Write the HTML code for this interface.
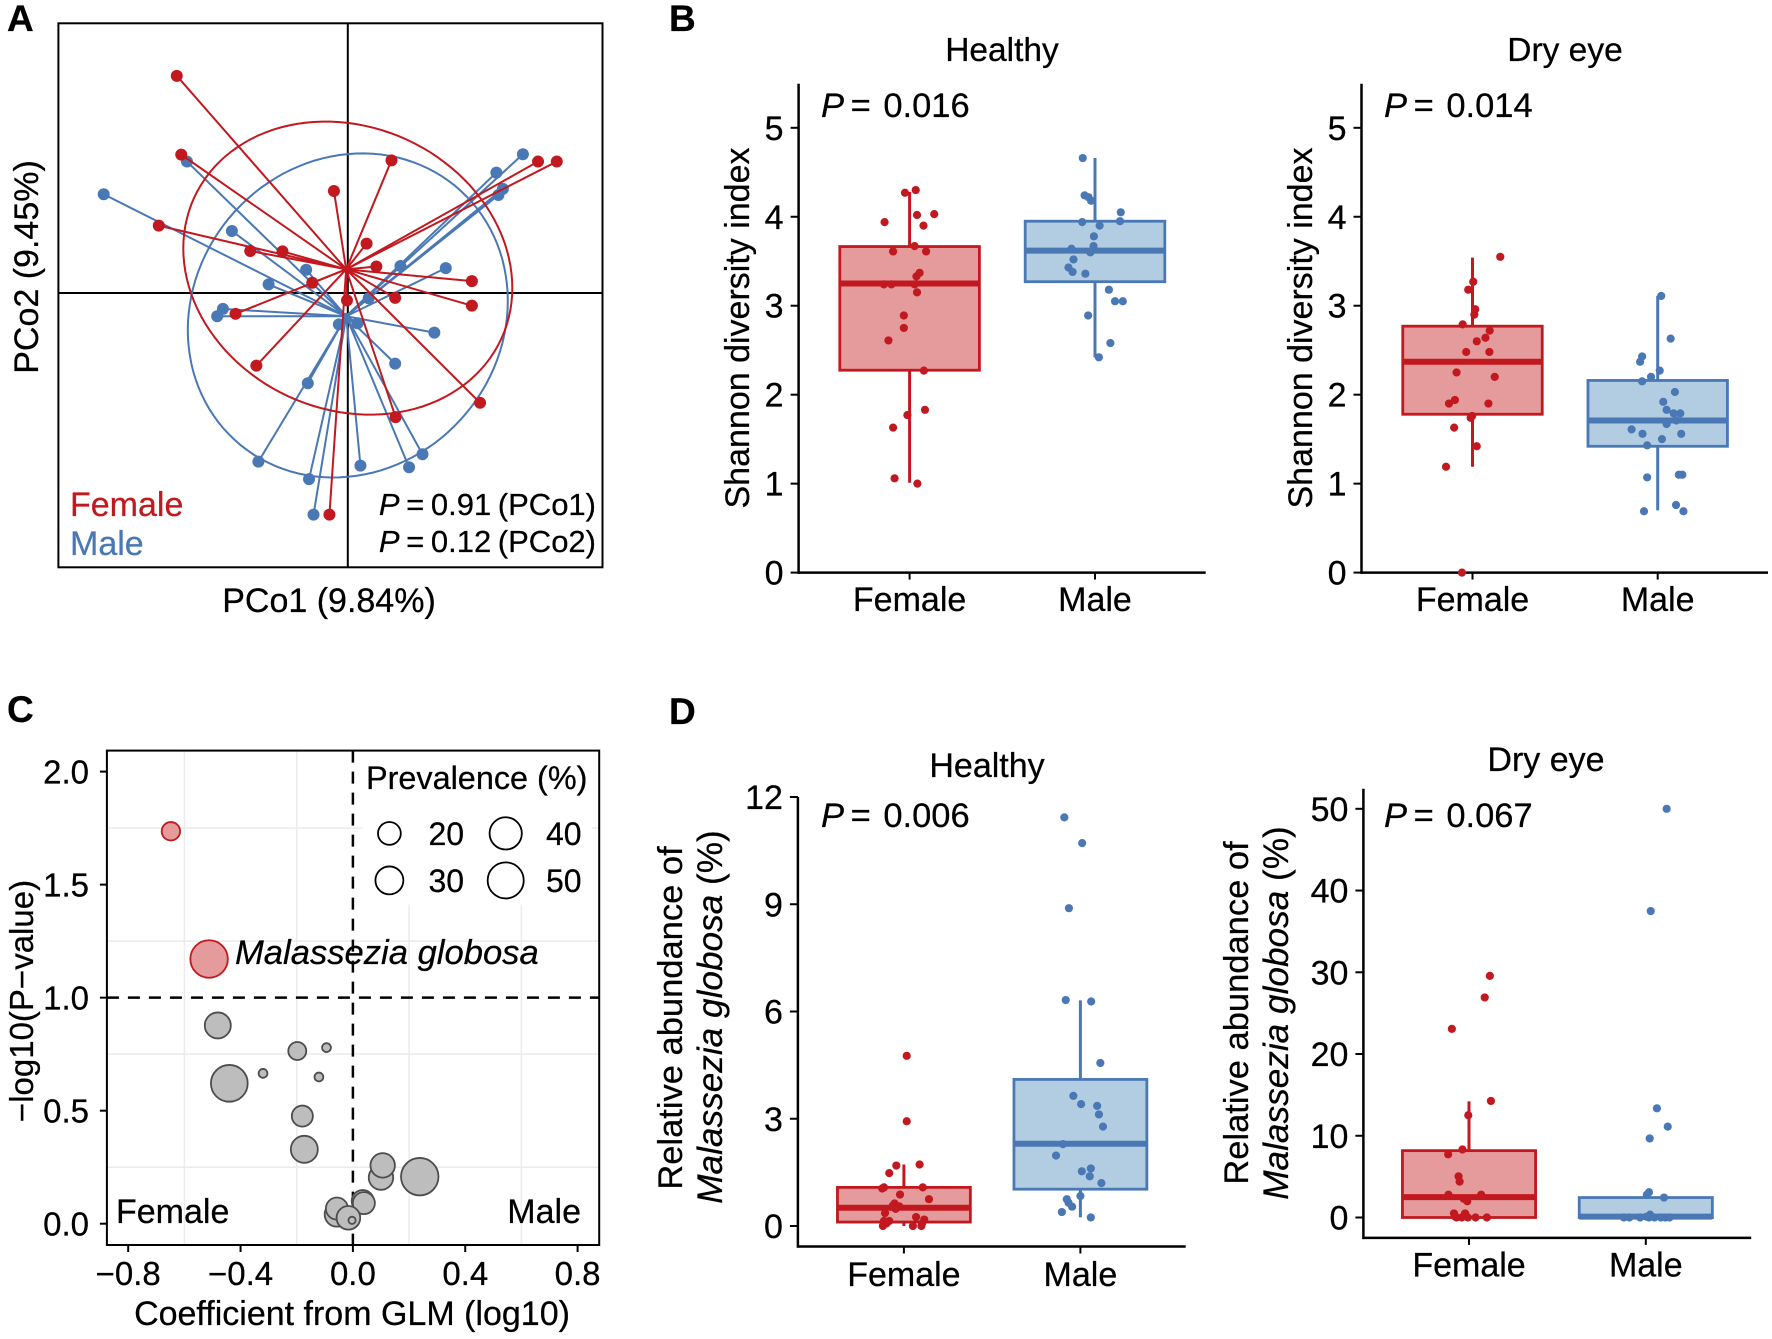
<!DOCTYPE html>
<html lang="en">
<head>
<meta charset="utf-8">
<title>Microbiome sex differences figure</title>
<style>
html,body{margin:0;padding:0;background:#fff;}
svg{display:block;}
text{font-family:"Liberation Sans",sans-serif;fill:#000;stroke:#000;stroke-width:.25px;}
</style>
</head>
<body>
<svg xmlns="http://www.w3.org/2000/svg" width="1772" height="1339" viewBox="0 0 1772 1339">
  <rect x="0" y="0" width="1772" height="1339" fill="#fff"/>
  <g id="panel-a"></g>
  <g id="panel-b1"></g>
  <g id="panel-b2"></g>
  <g id="panel-c"></g>
  <g id="panel-d1"></g>
  <g id="panel-d2"></g>

  <g font-weight="700" font-size="37">
    <text x="7" y="31">A</text>
    <text x="669" y="31">B</text>
    <text x="7" y="722">C</text>
    <text x="669" y="724">D</text>
  </g>

  <!-- Panel A text -->
  <text x="329" y="612" font-size="34" text-anchor="middle">PCo1 (9.84%)</text>
  <text transform="translate(38 267) rotate(-90)" font-size="34" text-anchor="middle">PCo2 (9.45%)</text>
  <text x="70" y="516" font-size="34" style="fill:#c1191f;stroke:#c1191f">Female</text>
  <text x="70" y="555" font-size="34" style="fill:#4a78b5;stroke:#4a78b5">Male</text>
  <text x="596" y="515" font-size="31" text-anchor="end" word-spacing="-2"><tspan font-style="italic">P</tspan> = 0.91 (PCo1)</text>
  <text x="596" y="552" font-size="31" text-anchor="end" word-spacing="-2"><tspan font-style="italic">P</tspan> = 0.12 (PCo2)</text>

  <!-- Panel B text -->
  <text x="1002" y="61" font-size="33.5" text-anchor="middle">Healthy</text>
  <text x="1565" y="61" font-size="33.5" text-anchor="middle">Dry eye</text>
  <text x="821" y="117" font-size="34.5"><tspan font-style="italic">P</tspan><tspan dx="-3"> = </tspan><tspan dx="3">0.016</tspan></text>
  <text x="1384" y="117" font-size="34.5"><tspan font-style="italic">P</tspan><tspan dx="-3"> = </tspan><tspan dx="3">0.014</tspan></text>
  <text transform="translate(749 328) rotate(-90)" font-size="34" text-anchor="middle">Shannon diversity index</text>
  <text transform="translate(1312 328) rotate(-90)" font-size="34" text-anchor="middle">Shannon diversity index</text>

  <!-- Panel C text -->
  <text transform="translate(33 1001) rotate(-90)" font-size="33" text-anchor="middle">−log10(P−value)</text>
  <text x="352" y="1325" font-size="34" text-anchor="middle">Coefficient from GLM (log10)</text>
  <text x="116" y="1223" font-size="34">Female</text>
  <text x="581" y="1223" font-size="34" text-anchor="end">Male</text>
  <text x="235" y="964" font-size="34.6" font-style="italic">Malassezia globosa</text>
  <text x="366" y="789" font-size="32.4">Prevalence (%)</text>

  <!-- Panel D text -->
  <text x="987" y="777" font-size="34" text-anchor="middle">Healthy</text>
  <text x="1546" y="771" font-size="34" text-anchor="middle">Dry eye</text>
  <text x="821" y="827" font-size="34.5"><tspan font-style="italic">P</tspan><tspan dx="-3"> = </tspan><tspan dx="3">0.006</tspan></text>
  <text x="1384" y="827" font-size="34.5"><tspan font-style="italic">P</tspan><tspan dx="-3"> = </tspan><tspan dx="3">0.067</tspan></text>
  <text transform="translate(682 1018) rotate(-90)" font-size="34.5" text-anchor="middle">Relative abundance of</text>
  <text transform="translate(722 1017) rotate(-90)" font-size="35.2" text-anchor="middle"><tspan font-style="italic">Malassezia globosa</tspan> (%)</text>
  <text transform="translate(1248 1013) rotate(-90)" font-size="34.5" text-anchor="middle">Relative abundance of</text>
  <text transform="translate(1288 1013) rotate(-90)" font-size="35.2" text-anchor="middle"><tspan font-style="italic">Malassezia globosa</tspan> (%)</text>
</svg>

<script>
// ---------- Panel A: PCoA ----------
const aFemaleX = [-.419,-.408,.107,-.034,-.463,-.239,-.160,.046,.070,-.087,.466,.512,.304,.304,.116,-.002,-.275,-.224,.117,.324,-.045];
const aFemaleY = [.532,.339,.325,.250,.165,.103,.102,.121,.065,.025,.322,.322,.029,-.031,-.012,-.018,-.051,-.178,-.304,-.269,-.543];
const aMaleX = [-.598,-.394,-.284,-.102,-.194,-.306,-.320,-.022,.024,.051,.129,.240,.212,.116,-.098,-.219,-.095,-.084,.031,.150,.183,.364,.429,.369,.380];
const aMaleY = [.242,.322,.152,.057,.021,-.039,-.057,-.077,-.074,-.013,.066,.061,-.097,-.173,-.221,-.413,-.456,-.543,-.423,-.427,-.395,.295,.340,.240,.255];
const aFemaleCentroid = [-.004,.058];
const aMaleCentroid = [-.004,-.057];
// ellipse: centre x, centre y, half width, half height, correlation
const aFemaleEllipse = [0,.061,.403,.359,-.135];
const aMaleEllipse = [0,-.055,.392,.397,.09];

// ---------- Panel B: Shannon diversity ----------
const bTicks = [0,1,2,3,4,5];
const categories = ['Female','Male'];
// box stats: q1, median, q3, lower whisker, upper whisker
const bHealthyFemaleBox = [2.275,3.25,3.665,1.01,4.28];
const bHealthyMaleBox = [3.27,3.62,3.95,2.42,4.66];
const bHealthyFemaleValues = [4.30,4.27,4.02,4.03,3.94,3.90,3.67,3.61,3.61,3.37,3.33,3.24,3.24,3.24,3.15,2.89,2.75,2.61,2.27,1.83,1.77,1.63,1.06,1.00];
const bHealthyFemaleJitter = [.033,-.025,.04,.133,-.135,.075,.027,-.089,.089,.054,.037,-.139,-.098,.027,.04,-.031,-.031,-.114,.077,.083,-.012,-.089,-.081,.042];
const bHealthyMaleValues = [4.66,4.24,4.22,4.18,4.05,3.94,3.95,3.90,3.78,3.64,3.67,3.64,3.60,3.52,3.43,3.38,3.36,3.18,3.05,3.05,2.89,2.58,2.42];
const bHealthyMaleJitter = [-.066,-.056,-.035,-.021,.139,-.069,.135,.025,-.006,-.127,-.008,-.008,-.025,-.116,-.143,-.121,-.052,.075,.108,.150,-.037,.083,.021];

const bDryFemaleBox = [1.78,2.37,2.77,1.19,3.54];
const bDryMaleBox = [1.42,1.71,2.16,.70,3.11];
const bDryFemaleValues = [3.55,3.27,3.18,2.96,2.90,2.79,2.72,2.64,2.60,2.48,2.48,2.25,2.20,1.94,1.90,1.90,1.74,1.76,1.63,1.42,1.19,0];
const bDryFemaleJitter = [.150,.004,-.023,.015,.010,-.053,.093,.070,.023,-.034,.091,-.086,.120,-.095,-.127,.086,-.010,-.002,-.099,.023,-.143,-.057];
const bDryMaleValues = [3.11,2.63,2.43,2.37,2.27,2.20,2.15,2.03,1.92,1.83,1.79,1.79,1.71,1.67,1.61,1.56,1.56,1.50,1.43,1.07,1.10,1.10,.76,.69,.69];
const bDryMaleJitter = [.019,.070,-.084,-.095,.011,-.036,-.084,.093,.030,.048,.086,.122,.101,.048,-.141,-.082,.127,.023,-.057,-.057,.114,.133,.099,-.074,.139];

// ---------- Panel C: volcano ----------
const cXTicks = [-0.8,-0.4,0,0.4,0.8];
const cXTickLabels = ['−0.8','−0.4','0.0','0.4','0.8'];
const cYTicks = [0,0.5,1,1.5,2];
const cYTickLabels = ['0.0','0.5','1.0','1.5','2.0'];
const cGridX = [-0.6,-0.2,0.2,0.6];
const cGridY = [0.25,0.75,1.25,1.75];
const cCoefficient = [-.648,-.512,-.481,-.198,-.094,-.320,-.121,-.440,-.180,-.173,.100,.106,.238,.035,.039,-.057,-.057,-.016,-.003];
const cLogP = [1.736,1.171,.877,.764,.779,.665,.649,.621,.476,.329,.204,.258,.208,.100,.091,.041,.067,.026,.015];
const cPrevalence = [13,54,26,12.4,3,3,3,52,17,28,23,23,54,18.7,18.7,23,18.7,21.5,2];
const cLegendPrevalence = [20,30,40,50];

// ---------- Panel D: relative abundance ----------
const dHealthyTicks = [0,3,6,9,12];
const dDryTicks = [0,10,20,30,40,50];
const dHealthyFemaleBox = [.11,.51,1.08,0,1.72];
const dHealthyMaleBox = [1.03,2.30,4.10,.24,6.31];
const dHealthyFemaleValues = [4.76,2.93,1.72,1.69,1.48,1.08,1.05,1.08,.88,.75,.63,.57,.55,.48,.36,.25,.18,.14,.14,.07,0,0,0,.07];
const dHealthyFemaleJitter = [.016,.016,.089,-.043,-.083,-.113,-.123,.107,-.022,.142,-.053,-.063,-.026,-.047,-.107,.069,.115,-.083,-.113,-.099,-.119,.051,.099,.103];
const dHealthyMaleValues = [11.43,10.71,8.89,6.32,6.28,4.56,3.64,3.41,3.36,3.12,2.78,2.29,1.97,1.61,1.53,1.39,1.20,.84,.75,.65,.54,.39,.24];
const dHealthyMaleJitter = [-.091,.010,-.065,-.083,.061,.113,-.040,.004,.095,.105,.128,-.099,-.138,.059,.008,.053,.119,0,-.077,-.067,-.047,-.105,.059];

const dDryFemaleBox = [0,2.49,8.18,0,14.2];
const dDryMaleBox = [0,.1,2.44,0,2.44];
const dDryFemaleValues = [29.56,26.92,23.08,14.26,12.51,8.32,7.73,5.03,4.39,2.79,2.79,2.29,1.99,.50,.50,0,0,0,0,0,.1];
const dDryFemaleJitter = [.118,.089,-.097,.124,-.004,-.037,-.118,-.059,-.053,-.116,.069,-.030,-.010,-.085,-.022,-.071,-.041,-.006,.037,.101,-.077];
const dDryMaleValues = [50,37.49,13.36,11.12,9.67,3.09,2.79,2.44,.35,.1,0,0,0,0,0,0,0,0];
const dDryMaleJitter = [.118,.028,.063,.124,.022,.018,.006,.103,.024,.004,-.124,-.093,-.032,.018,.049,.085,.110,.134];

// ---------- helpers ----------
const RED = '#c1191f', BLUE = '#4a78b5', RED_FILL = '#e59a9c', BLUE_FILL = '#b2cde2';
const NS = 'http://www.w3.org/2000/svg';
function mk(parent, tag, attrs, txt) {
  const el = document.createElementNS(NS, tag);
  for (const k in attrs) el.setAttribute(k, attrs[k]);
  if (txt !== undefined) el.textContent = txt;
  parent.appendChild(el);
  return el;
}
function linear(d0, d1, r0, r1) {
  return function (v) { return r0 + (v - d0) * (r1 - r0) / (d1 - d0); };
}

// ---------- Panel A drawing ----------
function drawA() {
  const g = document.getElementById('panel-a');
  const sx = linear(0, 1, 347.8, 756);
  const sy = linear(0, 1, 293, -115.2);
  const frame = mk(g, 'rect', {x:58.4, y:23.3, width:544.1, height:544, fill:'#fff', stroke:'#000', 'stroke-width':2});
  
  
  const vAxis = mk(g, 'line', {x1:sx(0), x2:sx(0), y1:23.3, y2:567.3, stroke:'#000', 'stroke-width':2});
  
  
  const hAxis = mk(g, 'line', {x1:58.4, x2:602.5, y1:sy(0), y2:sy(0), stroke:'#000', 'stroke-width':2});
  
  

  function group(label, color, xs, ys, c, e) {
    for (let i = 0; i < xs.length; i++) {
      const spoke = mk(g, 'line', {x1:sx(c[0]), y1:sy(c[1]), x2:sx(xs[i]), y2:sy(ys[i]), stroke:color, 'stroke-width':2});
      
      
    }
    let d = '';
    for (let k = 0; k <= 120; k++) {
      const t = k / 120 * 2 * Math.PI;
      const ex = e[0] + e[2] * Math.cos(t);
      const ey = e[1] + e[3] * (e[4] * Math.cos(t) + Math.sqrt(1 - e[4] * e[4]) * Math.sin(t));
      d += (k ? 'L' : 'M') + sx(ex).toFixed(1) + ' ' + sy(ey).toFixed(1);
    }
    const ell = mk(g, 'path', {d:d + 'Z', fill:'none', stroke:color, 'stroke-width':2});
    
    
    for (let i = 0; i < xs.length; i++) {
      const pt = mk(g, 'circle', {cx:sx(xs[i]), cy:sy(ys[i]), r:6, fill:color});
      
      
    }
    const ctr = mk(g, 'circle', {cx:sx(c[0]), cy:sy(c[1]), r:3.5, fill:color});
    
    
  }
  group('male', BLUE, aMaleX, aMaleY, aMaleCentroid, aMaleEllipse);
  group('female', RED, aFemaleX, aFemaleY, aFemaleCentroid, aFemaleEllipse);
}

// ---------- Box panels ----------
function drawBoxPanel(id, o) {
  const g = document.getElementById(id);
  const y = linear(o.dom[0], o.dom[1], o.rng[0], o.rng[1]);
  const x = linear(0, 1, o.catX[0], o.catX[1]);
  const halfW = 0.3765;

  const yAxis = mk(g, 'line', {x1:o.axisX, x2:o.axisX, y1:o.top, y2:o.base + 1.25, stroke:'#000', 'stroke-width':2.5});
  
  
  const xAxis = mk(g, 'line', {x1:o.axisX, x2:o.right, y1:o.base, y2:o.base, stroke:'#000', 'stroke-width':2.5});
  
  

  o.ticks.forEach(function (t) {
    const tm = mk(g, 'line', {x1:o.axisX - 8, x2:o.axisX, y1:y(t), y2:y(t), stroke:'#000', 'stroke-width':2});
    
    
    const tl = mk(g, 'text', {x:o.axisX - 15, y:y(t) + 12, 'font-size':34, 'text-anchor':'end'}, String(t));
    
    
  });

  const series = [
    {label:'female', color:RED, fill:RED_FILL, box:o.femaleBox, values:o.femaleValues, jitter:o.femaleJitter},
    {label:'male', color:BLUE, fill:BLUE_FILL, box:o.maleBox, values:o.maleValues, jitter:o.maleJitter}
  ];
  series.forEach(function (s, i) {
    const tm = mk(g, 'line', {x1:x(i), x2:x(i), y1:o.base, y2:o.base + 7, stroke:'#000', 'stroke-width':2});
    
    
    const tl = mk(g, 'text', {x:x(i), y:o.catBaseline, 'font-size':34, 'text-anchor':'middle'}, categories[i]);
    
    

    const b = s.box;
    const wh = mk(g, 'line', {x1:x(i), x2:x(i), y1:y(b[3]), y2:y(b[4]), stroke:s.color, 'stroke-width':3});
    
    
    const rc = mk(g, 'rect', {x:x(i - halfW), y:y(b[2]), width:x(i + halfW) - x(i - halfW), height:y(b[0]) - y(b[2]), fill:s.fill, stroke:s.color, 'stroke-width':2.8});
    
    
    const md = mk(g, 'line', {x1:x(i - halfW), x2:x(i + halfW), y1:y(b[1]), y2:y(b[1]), stroke:s.color, 'stroke-width':6});
    
    
    s.values.forEach(function (v, k) {
      const dot = mk(g, 'circle', {cx:x(i + s.jitter[k]), cy:y(v), r:4.1, fill:s.color});
      
      
    });
  });
}

// ---------- Panel C drawing ----------
function drawC() {
  const g = document.getElementById('panel-c');
  const sx = linear(-0.8, 0.8, 128.2, 577.6);
  const sy = linear(0, 2, 1223.7, 771.6);
  const L = 106.9, R = 599.2, T = 750.6, B = 1245;

  cGridX.forEach(function (v) {
    const l = mk(g, 'line', {x1:sx(v), x2:sx(v), y1:T, y2:B, stroke:'#ebebeb', 'stroke-width':1.5});
    
    
  });
  cGridY.forEach(function (v) {
    const l = mk(g, 'line', {x1:L, x2:R, y1:sy(v), y2:sy(v), stroke:'#ebebeb', 'stroke-width':1.5});
    
    
  });
  const legendBg = mk(g, 'rect', {x:363, y:T, width:229, height:154, fill:'#fff'});
  
  
  const frame = mk(g, 'rect', {x:L, y:T, width:R - L, height:B - T, fill:'none', stroke:'#000', 'stroke-width':2});
  
  

  cXTicks.forEach(function (v, i) {
    const t = mk(g, 'line', {x1:sx(v), x2:sx(v), y1:B, y2:B + 7, stroke:'#000', 'stroke-width':2});
    
    
    const l = mk(g, 'text', {x:sx(v), y:1285, 'font-size':33, 'text-anchor':'middle'}, cXTickLabels[i]);
    
    
  });
  cYTicks.forEach(function (v, i) {
    const t = mk(g, 'line', {x1:L - 7, x2:L, y1:sy(v), y2:sy(v), stroke:'#000', 'stroke-width':2});
    
    
    const l = mk(g, 'text', {x:89, y:sy(v) + 12, 'font-size':33, 'text-anchor':'end'}, cYTickLabels[i]);
    
    
  });

  const dv = mk(g, 'line', {x1:sx(0), x2:sx(0), y1:T, y2:B, stroke:'#000', 'stroke-width':2.5, 'stroke-dasharray':'12 9'});
  
  
  const dh = mk(g, 'line', {x1:L, x2:R, y1:sy(1), y2:sy(1), stroke:'#000', 'stroke-width':2.5, 'stroke-dasharray':'12 9'});
  
  

  const rScale = function (p) { return 2.55 * Math.sqrt(p); };
  cCoefficient.forEach(function (v, i) {
    const sig = cLogP[i] > 1;
    const c = mk(g, 'circle', {cx:sx(v), cy:sy(cLogP[i]), r:rScale(cPrevalence[i]), fill:sig ? RED_FILL : '#bdbdbd', stroke:sig ? RED : '#4d4d4d', 'stroke-width':1.8});
    
    
  });

  cLegendPrevalence.forEach(function (p, i) {
    const col = i < 2 ? 0 : 1;
    const row = i % 2;
    const c = mk(g, 'circle', {cx:389.4 + col * 116.3, cy:833.4 + row * 47, r:rScale(p), fill:'#fff', stroke:'#000', 'stroke-width':1.8});
    
    
    const t = mk(g, 'text', {x:428.5 + col * 117.5, y:845 + row * 47, 'font-size':32}, String(p));
    
    
  });
}

drawA();
drawBoxPanel('panel-b1', {dom:[0,5], rng:[572.6,127.8], catX:[909.6,1095], axisX:798.6, right:1205.7, top:83.7, base:572.6, catBaseline:611, ticks:bTicks,
  femaleBox:bHealthyFemaleBox, maleBox:bHealthyMaleBox, femaleValues:bHealthyFemaleValues, femaleJitter:bHealthyFemaleJitter, maleValues:bHealthyMaleValues, maleJitter:bHealthyMaleJitter});
drawBoxPanel('panel-b2', {dom:[0,5], rng:[572.6,127.8], catX:[1472.5,1657.7], axisX:1361.5, right:1768, top:83.7, base:572.6, catBaseline:611, ticks:bTicks,
  femaleBox:bDryFemaleBox, maleBox:bDryMaleBox, femaleValues:bDryFemaleValues, femaleJitter:bDryFemaleJitter, maleValues:bDryMaleValues, maleJitter:bDryMaleJitter});
drawC();
drawBoxPanel('panel-d1', {dom:[0,12], rng:[1226,797], catX:[903.9,1080.4], axisX:797.9, right:1185.7, top:797, base:1246.5, catBaseline:1286, ticks:dHealthyTicks,
  femaleBox:dHealthyFemaleBox, maleBox:dHealthyMaleBox, femaleValues:dHealthyFemaleValues, femaleJitter:dHealthyFemaleJitter, maleValues:dHealthyMaleValues, maleJitter:dHealthyMaleJitter});
drawBoxPanel('panel-d2', {dom:[0,50], rng:[1217.5,808.8], catX:[1469,1645.8], axisX:1363.4, right:1751.2, top:788.8, base:1237.9, catBaseline:1276.5, ticks:dDryTicks,
  femaleBox:dDryFemaleBox, maleBox:dDryMaleBox, femaleValues:dDryFemaleValues, femaleJitter:dDryFemaleJitter, maleValues:dDryMaleValues, maleJitter:dDryMaleJitter});
</script>
</body>
</html>
